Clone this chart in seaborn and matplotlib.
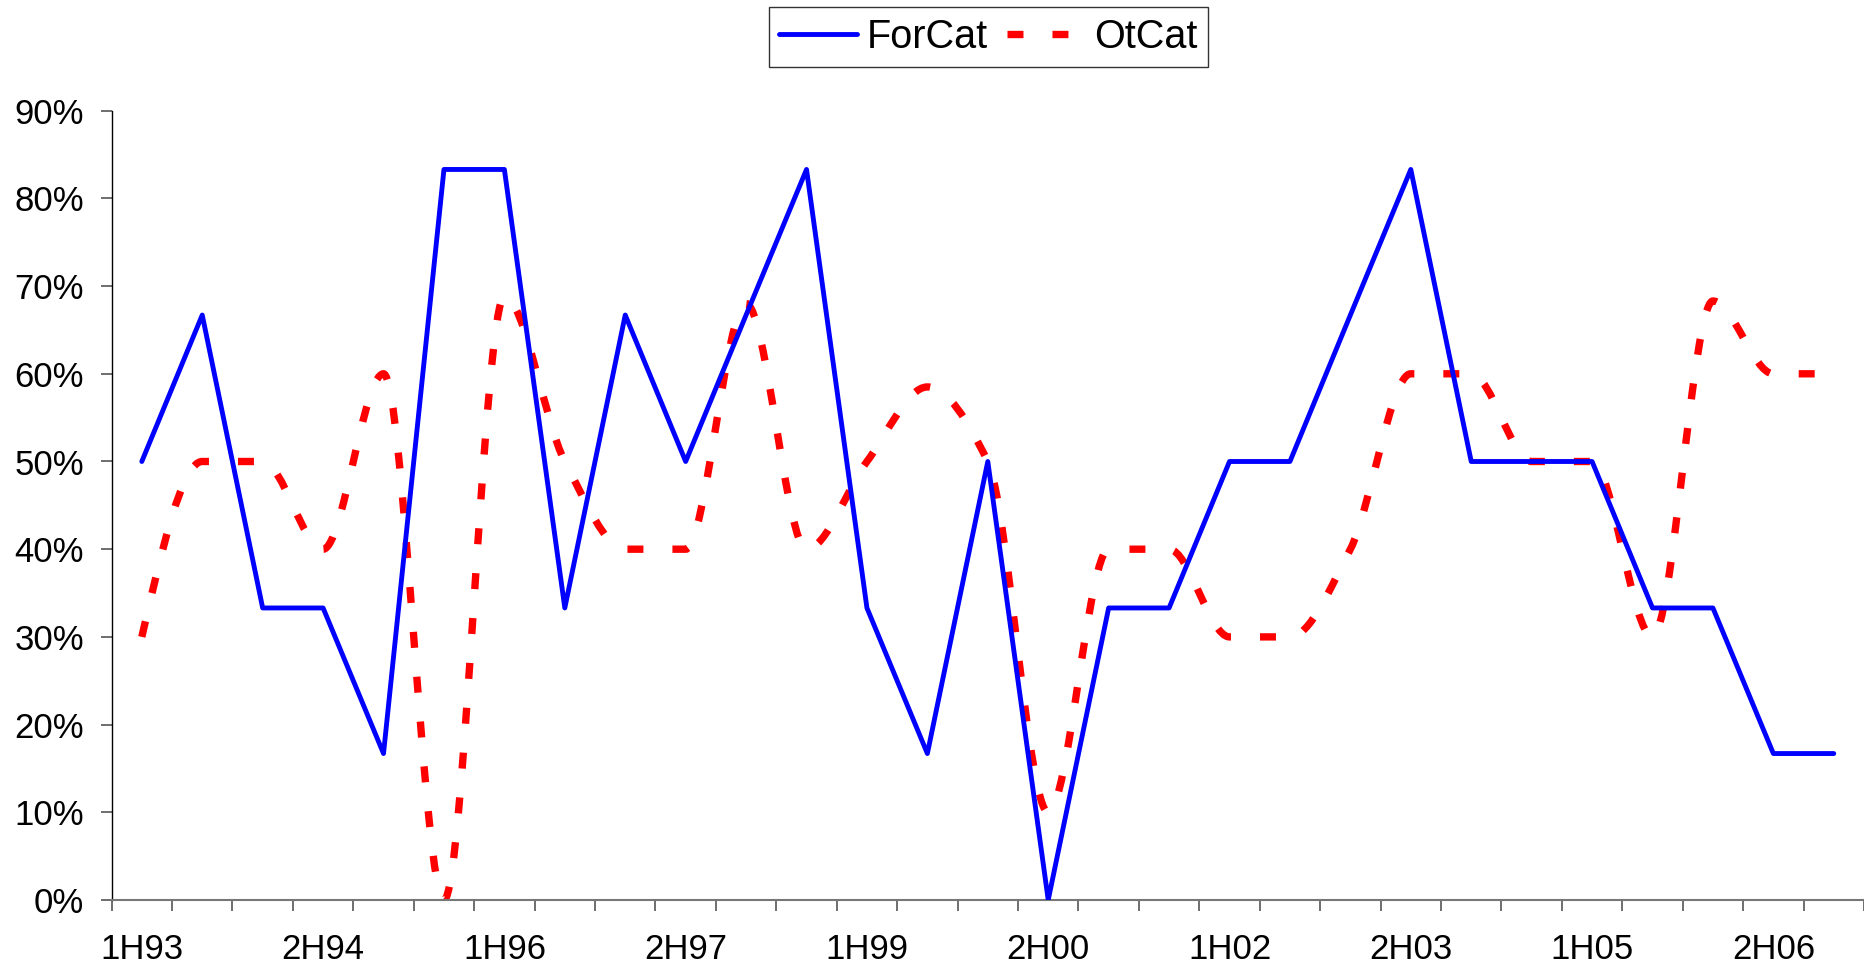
import numpy as np
import pandas as pd
import matplotlib
matplotlib.use("Agg")
import matplotlib.pyplot as plt
from matplotlib.path import Path
from matplotlib.patches import PathPatch
from matplotlib.lines import Line2D
from matplotlib.ticker import PercentFormatter
import seaborn as sns

# half-year periods 1H93 .. 1H07
years = ['93', '94', '95', '96', '97', '98', '99', '00', '01', '02', '03', '04', '05', '06', '07']
periods = [h + 'H' + y for y in years for h in ('1', '2')][:29]

forcat = [0.50, 0.667, 0.333, 0.333, 0.167, 0.833, 0.833, 0.333, 0.667, 0.50,
          0.667, 0.833, 0.333, 0.167, 0.50, 0.0, 0.333, 0.333, 0.50, 0.50,
          0.667, 0.833, 0.50, 0.50, 0.50, 0.333, 0.333, 0.167, 0.167]
otcat = [0.30, 0.50, 0.50, 0.40, 0.60, 0.0, 0.688, 0.50, 0.40, 0.40,
         0.68, 0.40, 0.50, 0.585, 0.50, 0.10, 0.40, 0.40, 0.30, 0.30,
         0.40, 0.60, 0.60, 0.50, 0.50, 0.30, 0.683, 0.60, 0.60]

labelled = periods[::3]

df = pd.DataFrame({'pos': np.arange(len(periods)), 'period': periods,
                   'ForCat': forcat, 'OtCat': otcat})


def smooth_slopes(y):
    # monotone (pchip style) tangents, flat at peaks and plateaus
    y = np.asarray(y, float)
    d = np.diff(y)
    m = np.zeros(len(y))
    for i in range(1, len(y) - 1):
        if d[i - 1] * d[i] > 0:
            m[i] = 2 / (1 / d[i - 1] + 1 / d[i])
    for idx, a, b in ((0, d[0], d[1]), (-1, d[-1], d[-2])):
        e = (3 * a - b) / 2
        if np.sign(e) != np.sign(a):
            e = 0.0
        elif np.sign(a) != np.sign(b) and abs(e) > abs(3 * a):
            e = 3 * a
        m[idx] = e
    return m


def smooth_path(xs, ys):
    xs = np.asarray(xs, float)
    ys = np.asarray(ys, float)
    m = smooth_slopes(ys)
    verts = [(xs[0], ys[0])]
    codes = [Path.MOVETO]
    for i in range(len(xs) - 1):
        h = xs[i + 1] - xs[i]
        verts += [(xs[i] + h / 3, ys[i] + m[i] * h / 3),
                  (xs[i + 1] - h / 3, ys[i + 1] - m[i + 1] * h / 3),
                  (xs[i + 1], ys[i + 1])]
        codes += [Path.CURVE4] * 3
    return Path(verts, codes)


sns.set_style('white')
plt.rcParams['font.family'] = ['Liberation Sans', 'DejaVu Sans']

fig = plt.figure(figsize=(18.64, 9.63), dpi=100)
ax = fig.add_axes([111.6 / 1864, 63 / 963, (1864 - 111.6) / 1864, 789.3 / 963])

red_dash = (0, (2.17, 3.94))

sns.lineplot(data=df, x='pos', y='ForCat', ax=ax, color='#0000FF', linewidth=3.5,
             solid_capstyle='round', zorder=3)

patch = PathPatch(smooth_path(df['pos'], df['OtCat']), fill=False, edgecolor='#FF0000',
                  linewidth=5.3, linestyle=red_dash, capstyle='butt', zorder=2)
ax.add_patch(patch)

ax.set_xlim(-0.5, -0.5 + (1864 - 111.6) / 60.5)
ax.set_ylim(0, 0.9)
ax.set_yticks(np.arange(0, 0.91, 0.1))
ax.yaxis.set_major_formatter(PercentFormatter(xmax=1, decimals=0))

# tick marks between categories, labels every third period
ax.set_xticks(np.arange(-0.5, len(periods), 1))
ax.set_xticklabels([])
ax.set_xticks(np.arange(0, len(periods), 3), minor=True)
ax.set_xticklabels(labelled, minor=True)

ax.tick_params(axis='x', which='major', direction='out', length=8, width=1.2,
               color='#555555', bottom=True)
ax.tick_params(axis='x', which='minor', length=0, pad=24, labelsize=25, bottom=True,
               labelcolor='#000000')
ax.tick_params(axis='y', direction='out', length=8, width=1.2, color='#555555',
               pad=12, labelsize=25, left=True, labelcolor='#000000')

ax.set_xlabel('')
ax.set_ylabel('')
sns.despine(ax=ax, top=True, right=True)
ax.spines['left'].set_color('#000000')
ax.spines['left'].set_linewidth(1.0)
ax.spines['bottom'].set_color('#777777')
ax.spines['bottom'].set_linewidth(1.5)

handles = [Line2D([], [], color='#0000FF', linewidth=3.5, solid_capstyle='round'),
           Line2D([], [], color='#FF0000', linewidth=5.3, linestyle=red_dash,
                  dash_capstyle='butt')]
leg = fig.legend(handles, ['ForCat', 'OtCat'], loc='upper center', ncol=2,
                 bbox_to_anchor=(988.5 / 1864, 1 - 7.3 / 963), fontsize=28.5,
                 frameon=True, fancybox=False, shadow=False, borderpad=0.27,
                 handlelength=1.95, handletextpad=0.25, columnspacing=0.49,
                 borderaxespad=0, labelcolor='#000000')
leg.get_frame().set_edgecolor('#000000')
leg.get_frame().set_linewidth(1.0)

fig.savefig('out.png', dpi=100, facecolor='white')
